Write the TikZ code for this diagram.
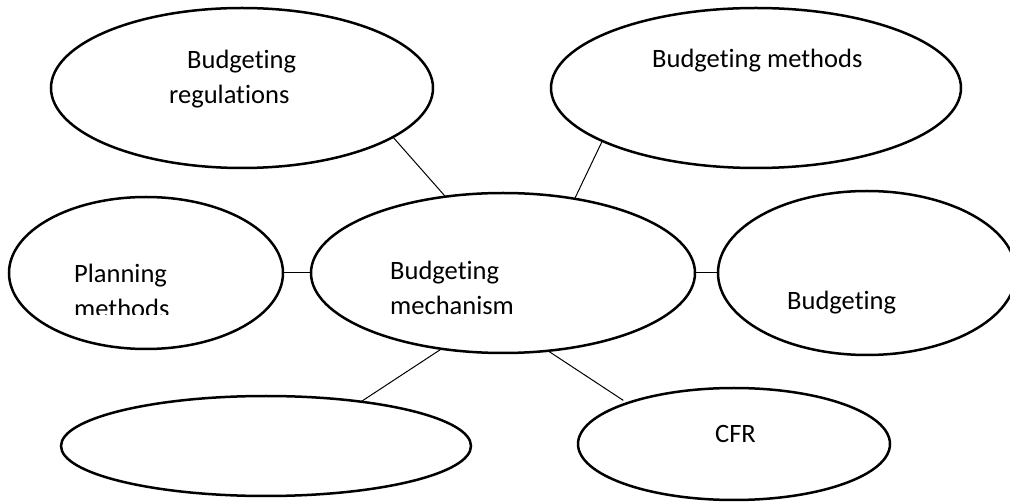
\documentclass[tikz,border=0pt]{standalone}
\usepackage{fontspec}
\setmainfont[Ligatures={NoCommon,NoContextual},RawFeature={-liga;-clig;-calt;-rlig}]{Carlito}
\usetikzlibrary{
  shapes.geometric,
  positioning,
}

\begin{document}
\begin{tikzpicture}[x=1pt,y=-1pt,node distance=0mm and 0mm,
    bubble/.style={draw,ellipse,line width=2.5pt,inner sep=0pt,outer sep=0pt},
    lbl/.style={inner sep=0pt,anchor=base west,align=left,font=\fontsize{26.5}{35}\selectfont},
    link/.style={line width=1pt}]
  \useasboundingbox (0,0) rectangle (1010,502);

  \node[bubble,minimum width=384pt,minimum height=160pt]    (mech)   at (503,273)   {};
  \node[bubble,minimum width=274pt,minimum height=152pt]    (plan)   [left=28pt of mech]    {};
  \node[bubble,minimum width=298pt,minimum height=164pt]    (budg)   [right=23pt of mech]   {};
  \node[bubble,minimum width=382pt,minimum height=160pt]    (regs)   at (242,88)    {};
  \node[bubble,minimum width=410pt,minimum height=160pt]    (meth)   at (756,88)    {};
  \node[bubble,minimum width=410pt,minimum height=100pt]    (blank)  at (266,446)   {};
  \node[bubble,minimum width=312pt,minimum height=112pt]    (cfr)    at (734,444)   {};

  % labels (base of two-line labels is the last line)
  \node[lbl] (regstext)  at (169,104) {\hspace*{18pt}Budgeting\\regulations};
  \node[lbl] (methtext)  at (652,68)  {Budgeting methods};
  \node[lbl] (mechtext)  at (390,315) {Budgeting\\mechanism};
  \node[lbl] (budgtext)  at (787,310) {Budgeting};
  \node[lbl] (cfrtext)   at (715,443) {CFR};
  \begin{scope}
    \clip (0,0) rectangle (1010,315);
    \node[lbl] (plantext) at (74,318) {Planning\\methods};
  \end{scope}

  % links
  \draw[link] (regs.-18.5) -- (mech.127.9);
  \draw[link] (meth.199.4) -- (mech.46.5);
  \draw[link] (plan.east) -- (mech.west);
  \draw[link] (mech.east) -- (budg.west);
  \draw[link] (mech.231.9) -- (blank.25.4);
  \draw[link,shorten >=5pt] (mech.-60) -- (cfr.159.8);

\end{tikzpicture}
\end{document}
